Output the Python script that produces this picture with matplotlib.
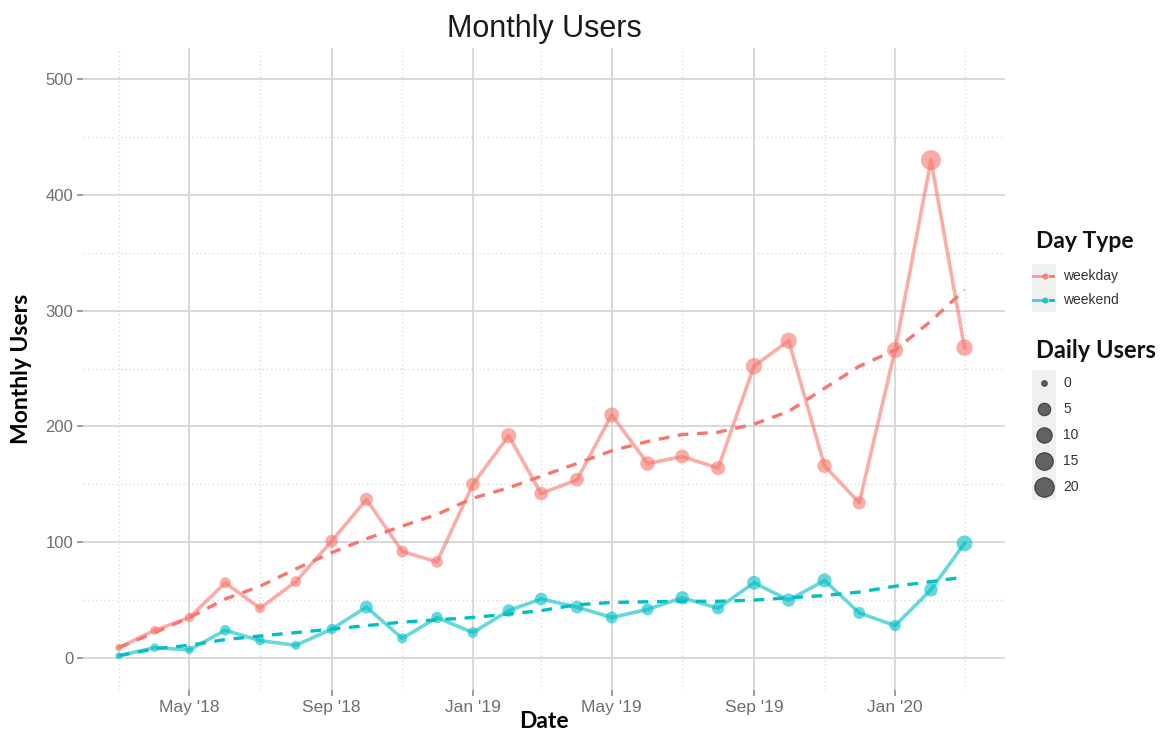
import numpy as np
import pandas as pd
import matplotlib
matplotlib.use("Agg")
import matplotlib.pyplot as plt
import matplotlib.dates as mdates

# monthly data, Mar 2018 .. Mar 2020
months = pd.date_range("2018-03-01", "2020-03-01", freq="MS")
weekday_users = [9, 24, 35, 65, 43, 66, 101, 137, 92, 83, 150, 192, 142,
                 154, 210, 168, 174, 164, 252, 274, 166, 134, 266, 430, 268]
weekend_users = [2, 9, 7, 24, 15, 11, 25, 44, 17, 35, 22, 41, 51,
                 44, 35, 42, 52, 43, 65, 50, 67, 39, 28, 59, 99]
# smoothed trend
weekday_trend = [9, 22, 35, 51, 62, 77, 91, 103, 114, 124, 138, 147, 157,
                 168, 179, 187, 193, 195, 202, 213, 233, 252, 266, 291, 318]
weekend_trend = [2, 8, 11, 16, 19, 22, 25, 28, 31, 33, 35, 38, 41,
                 46, 48, 48.6, 49, 49, 50, 52, 54, 57, 62, 66, 70]

size_breaks = [0, 5, 10, 15, 20]
day_types = ["weekday", "weekend"]
colors = {"weekday": "#F8766D", "weekend": "#00BFC4"}

# daily users = monthly users / number of days of that type in the month
starts = months.values.astype("datetime64[D]")
ends = (months + pd.offsets.MonthBegin(1)).values.astype("datetime64[D]")
n_weekdays = np.busday_count(starts, ends)
n_days = (ends - starts).astype(int)
daily = {
    "weekday": np.array(weekday_users) / n_weekdays,
    "weekend": np.array(weekend_users) / (n_days - n_weekdays),
}
monthly = {"weekday": weekday_users, "weekend": weekend_users}
trend = {"weekday": weekday_trend, "weekend": weekend_trend}


def marker_area(v):
    d_px = 5.5 + 14 * np.sqrt(np.asarray(v, dtype=float) / 20.0)
    return (d_px * 0.72) ** 2


W, H = 1173, 736
fig = plt.figure(figsize=(W / 100, H / 100), dpi=100)
ax = fig.add_axes([83 / W, 1 - 690 / H, (1005 - 83) / W, (690 - 48) / H])

x = mdates.date2num(months)
for t in day_types:
    ax.plot(x, monthly[t], color=colors[t], lw=2.6, alpha=0.6, zorder=3)
    ax.scatter(x, monthly[t], s=marker_area(daily[t]), color=colors[t],
               alpha=0.6, lw=0, zorder=4)
    ax.plot(x, trend[t], color=colors[t], lw=2.4, ls=(0, (3.2, 2.6)),
            zorder=5)

ax.xaxis.set_major_locator(mdates.MonthLocator(bymonth=[1, 5, 9]))
ax.xaxis.set_minor_locator(mdates.MonthLocator(bymonth=[3, 7, 11]))
ax.xaxis.set_major_formatter(mdates.DateFormatter("%b '%y"))
ax.set_yticks([0, 100, 200, 300, 400, 500])
ax.set_yticks([50, 150, 250, 350, 450], minor=True)
ax.set_xlim(mdates.date2num(pd.Timestamp("2018-01-29")),
            mdates.date2num(pd.Timestamp("2020-04-05")))
ax.set_ylim(-27.6, 526.8)

ax.grid(which="major", color="#d6d6d6", lw=1.3)
ax.grid(which="minor", color="#dcdcdc", lw=1.0, ls=(0, (1, 2)))
ax.set_axisbelow(True)
for s in ax.spines.values():
    s.set_visible(False)
ax.tick_params(which="major", length=4, width=1.2, color="#8c8c8c",
               labelsize=12, labelcolor="#6e6e6e", pad=3)
ax.tick_params(axis="x", which="major", labelsize=12.5)
ax.tick_params(which="minor", length=0)
for lab in ax.get_xticklabels() + ax.get_yticklabels():
    lab.set_family("Liberation Sans")

ax.set_title("Monthly Users", fontsize=22, family="Liberation Sans",
             color="#1a1a1a", pad=8)
ax.set_xlabel("Date", fontsize=16.5, fontweight="bold", family="Lato",
              va="center")
ax.xaxis.set_label_coords(0.5, (690 - 722) / 642)
ax.set_ylabel("Monthly Users", fontsize=16.5, fontweight="bold",
              family="Lato", va="center")
ax.yaxis.set_label_coords((22 - 83) / 922, 0.5)

# legends drawn in a pixel-coordinate overlay
lg = fig.add_axes([0, 0, 1, 1], facecolor="none")
lg.set_xlim(0, W)
lg.set_ylim(H, 0)
lg.axis("off")

lg.text(1036, 242, "Day Type", fontsize=16.5, fontweight="bold",
        family="Lato", va="center", ha="left", color="#111111")
for i, t in enumerate(day_types):
    yc = 276 + i * 24
    lg.add_patch(plt.Rectangle((1032, yc - 12), 24, 24, color="#f0f0f0",
                               lw=0))
    lg.plot([1033, 1045], [yc, yc], color=colors[t], lw=2, alpha=0.7)
    lg.plot([1045], [yc], "o", ms=3.5, color=colors[t], alpha=0.7)
    lg.plot([1050, 1053], [yc, yc], color=colors[t], lw=2)
    lg.text(1063, yc, t, fontsize=10, family="Liberation Sans",
            va="center", ha="left", color="#333333")

lg.text(1036, 351, "Daily Users", fontsize=17, fontweight="bold",
        family="Lato", va="center", ha="left", color="#111111")
for i, b in enumerate(size_breaks):
    yc = 383 + i * 26
    lg.add_patch(plt.Rectangle((1032, yc - 13), 24, 26, color="#f0f0f0",
                               lw=0))
    lg.scatter([1044], [yc], s=marker_area(b), color="#333333", alpha=0.75,
               lw=0.8, edgecolor="#222222")
    lg.text(1063, yc, str(b), fontsize=10, family="Liberation Sans",
            va="center", ha="left", color="#333333")

fig.savefig("out.png", dpi=100, facecolor="white")
